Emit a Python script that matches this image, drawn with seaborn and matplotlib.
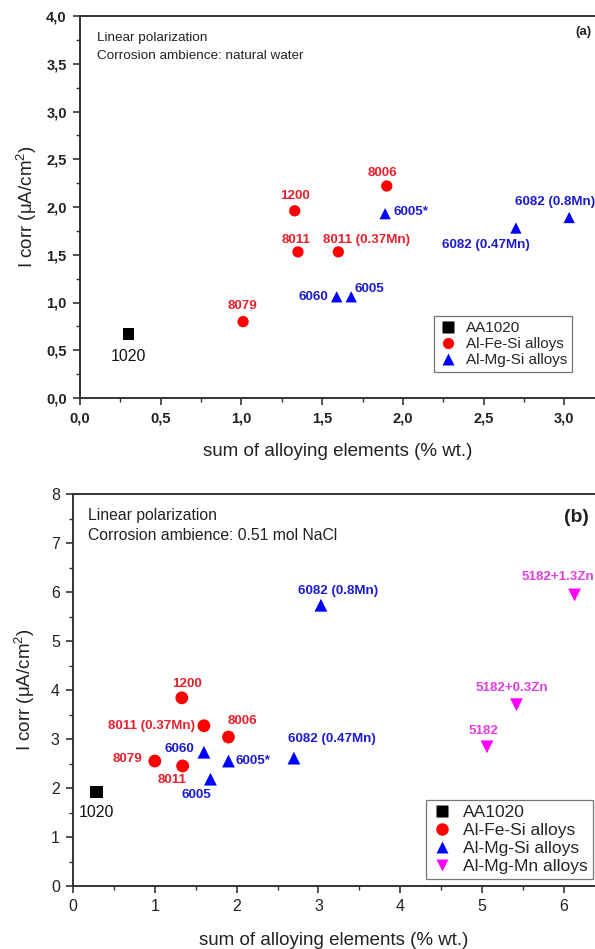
import matplotlib
matplotlib.use("Agg")
import matplotlib.pyplot as plt
from matplotlib.ticker import MultipleLocator, FuncFormatter
from matplotlib.lines import Line2D
import seaborn as sns
import pandas as pd

sns.set_style("ticks")
plt.rcParams["font.family"] = ["Liberation Sans", "DejaVu Sans"]

# ---------------- data: panel (a), natural water ----------------
a_names = ["1020", "8079", "8011", "8011 (0.37Mn)", "1200", "8006",
           "6060", "6005", "6005*", "6082 (0.47Mn)", "6082 (0.8Mn)"]
a_groups = ["AA1020", "Al-Fe-Si alloys", "Al-Fe-Si alloys", "Al-Fe-Si alloys",
            "Al-Fe-Si alloys", "Al-Fe-Si alloys",
            "Al-Mg-Si alloys", "Al-Mg-Si alloys", "Al-Mg-Si alloys",
            "Al-Mg-Si alloys", "Al-Mg-Si alloys"]
a_sum = [0.30, 1.01, 1.35, 1.60, 1.33, 1.90, 1.59, 1.68, 1.89, 2.70, 3.03]
a_icorr = [0.67, 0.80, 1.53, 1.53, 1.96, 2.22, 1.06, 1.06, 1.93, 1.78, 1.89]

# ---------------- data: panel (b), 0.51 mol NaCl ----------------
b_names = ["1020", "8079", "8011", "8011 (0.37Mn)", "8006", "1200",
           "6060", "6005", "6005*", "6082 (0.47Mn)", "6082 (0.8Mn)",
           "5182", "5182+0.3Zn", "5182+1.3Zn"]
b_groups = ["AA1020", "Al-Fe-Si alloys", "Al-Fe-Si alloys", "Al-Fe-Si alloys",
            "Al-Fe-Si alloys", "Al-Fe-Si alloys",
            "Al-Mg-Si alloys", "Al-Mg-Si alloys", "Al-Mg-Si alloys",
            "Al-Mg-Si alloys", "Al-Mg-Si alloys",
            "Al-Mg-Mn alloys", "Al-Mg-Mn alloys", "Al-Mg-Mn alloys"]
b_sum = [0.29, 1.00, 1.34, 1.60, 1.90, 1.33, 1.60, 1.68, 1.90, 2.70, 3.03,
         5.06, 5.42, 6.13]
b_icorr = [1.92, 2.55, 2.45, 3.27, 3.04, 3.84, 2.73, 2.18, 2.55, 2.61, 5.73,
           2.84, 3.70, 5.94]

groups = ["AA1020", "Al-Fe-Si alloys", "Al-Mg-Si alloys", "Al-Mg-Mn alloys"]
palette = {"AA1020": "#000000", "Al-Fe-Si alloys": "#ff0000",
           "Al-Mg-Si alloys": "#0000ff", "Al-Mg-Mn alloys": "#ff00ff"}
markers = {"AA1020": "s", "Al-Fe-Si alloys": "o",
           "Al-Mg-Si alloys": "^", "Al-Mg-Mn alloys": "v"}
text_colors = {"AA1020": "#111111", "Al-Fe-Si alloys": "#e8202c",
               "Al-Mg-Si alloys": "#1a1ad0", "Al-Mg-Mn alloys": "#e040e0"}

# label offsets (pixels) relative to each marker, with alignment
a_offsets = {
    "1020": (0, -22, "center", "regular"),
    "8079": (-1, 16, "center", "bold"),
    "8011": (-2, 12, "center", "bold"),
    "8011 (0.37Mn)": (28, 12, "center", "bold"),
    "1200": (0, 15, "center", "bold"),
    "8006": (-4, 13, "center", "bold"),
    "6060": (-8, 0, "right", "bold"),
    "6005": (3, 8, "left", "bold"),
    "6005*": (8, 2, "left", "bold"),
    "6082 (0.47Mn)": (-30, -17, "center", "bold"),
    "6082 (0.8Mn)": (-14, 16, "center", "bold"),
}
b_offsets = {
    "1020": (0, -21, "center", "regular"),
    "8079": (-12, 2, "right", "bold"),
    "8011": (-11, -14, "center", "bold"),
    "8011 (0.37Mn)": (-9, 0, "right", "bold"),
    "8006": (14, 16, "center", "bold"),
    "1200": (5, 14, "center", "bold"),
    "6060": (-10, 3, "right", "bold"),
    "6005": (-14, -16, "center", "bold"),
    "6005*": (7, 0, "left", "bold"),
    "6082 (0.47Mn)": (38, 19, "center", "bold"),
    "6082 (0.8Mn)": (17, 14, "center", "bold"),
    "5182": (-4, 16, "center", "bold"),
    "5182+0.3Zn": (-5, 17, "center", "bold"),
    "5182+1.3Zn": (-17, 18, "center", "bold"),
}

fig = plt.figure(figsize=(5.95, 9.49), dpi=100)
ax_a = fig.add_axes([80 / 595, 1 - 398 / 949, 1 - 80 / 595, (398 - 16) / 949])
ax_b = fig.add_axes([73 / 595, 1 - 886 / 949, 1 - 73 / 595, (886 - 494) / 949])


def draw_panel(ax, names, grp, xs, ys, offsets, present, msize, lab_fs):
    df = pd.DataFrame({"alloy": names, "group": grp, "sum": xs, "icorr": ys})
    sns.scatterplot(data=df, x="sum", y="icorr", hue="group", style="group",
                    palette={g: palette[g] for g in present},
                    markers={g: markers[g] for g in present},
                    hue_order=present, style_order=present,
                    s=msize, edgecolor="none", linewidth=0, legend=False,
                    ax=ax, zorder=3)
    for _, r in df.iterrows():
        dx, dy, ha, wt = offsets[r["alloy"]]
        fs = 11.5 if wt == "regular" else lab_fs
        ax.annotate(r["alloy"], (r["sum"], r["icorr"]),
                    xytext=(dx, dy), textcoords="offset pixels",
                    ha=ha, va="center", fontsize=fs, fontweight=wt,
                    color=text_colors[r["group"]], zorder=4)


def style_axes(ax):
    for side in ("left", "bottom", "top"):
        ax.spines[side].set_linewidth(1.4)
        ax.spines[side].set_color("#333333")
    ax.spines["right"].set_visible(False)
    ax.tick_params(which="major", direction="out", length=5, width=1.2,
                   colors="#333333", top=False, right=False, pad=4.5)
    ax.tick_params(which="minor", direction="out", length=3, width=1.0,
                   colors="#333333", top=False, right=False)
    ax.tick_params(axis="both", labelcolor="#222222")


def legend(ax, present, anchor, fs, ms):
    handles = [Line2D([], [], linestyle="none", marker=markers[g],
                      markerfacecolor=palette[g], markeredgecolor="none",
                      markersize=ms, label=g) for g in present]
    leg = ax.legend(handles=handles, loc="lower right", bbox_to_anchor=anchor,
                    borderaxespad=0, frameon=True, fancybox=False,
                    fontsize=fs, handletextpad=0.6, borderpad=0.3,
                    labelspacing=0.15, handlelength=1.2)
    leg.get_frame().set_edgecolor("#555555")
    leg.get_frame().set_linewidth(0.9)


# ---------------- panel (a) ----------------
present_a = groups[:3]
draw_panel(ax_a, a_names, a_groups, a_sum, a_icorr, a_offsets, present_a, 66, 9.6)
ax_a.set_xlim(0, 3.19)
ax_a.set_ylim(0, 4.0)
ax_a.xaxis.set_major_locator(MultipleLocator(0.5))
ax_a.xaxis.set_minor_locator(MultipleLocator(0.25))
ax_a.yaxis.set_major_locator(MultipleLocator(0.5))
ax_a.yaxis.set_minor_locator(MultipleLocator(0.25))
comma = FuncFormatter(lambda v, p: f"{v:.1f}".replace(".", ","))
ax_a.xaxis.set_major_formatter(comma)
ax_a.yaxis.set_major_formatter(comma)
style_axes(ax_a)
for lab in ax_a.get_xticklabels() + ax_a.get_yticklabels():
    lab.set_fontweight("bold")
    lab.set_fontsize(10.5)
ax_a.set_xlabel("sum of alloying elements (% wt.)", fontsize=13.5,
                color="#222222", labelpad=13)
ax_a.set_ylabel(r"I corr ($\mathregular{\mu}$A/cm$^\mathregular{2}$)",
                fontsize=13.5, color="#222222", labelpad=5)
ax_a.text(0.033, 0.942, "Linear polarization", transform=ax_a.transAxes,
          fontsize=9.7, va="center", ha="left", color="#222222")
ax_a.text(0.033, 0.895, "Corrosion ambience: natural water",
          transform=ax_a.transAxes, fontsize=9.7, va="center", ha="left",
          color="#222222")
ax_a.text(0.977, 0.958, "(a)", transform=ax_a.transAxes, fontsize=9.5,
          fontweight="bold", va="center", ha="center", color="#222222")
legend(ax_a, present_a, (0.955, 0.068), 11, 8)

# ---------------- panel (b) ----------------
present_b = groups
draw_panel(ax_b, b_names, b_groups, b_sum, b_icorr, b_offsets, present_b, 85, 9.6)
ax_b.set_xlim(0, 6.38)
ax_b.set_ylim(0, 8)
ax_b.xaxis.set_major_locator(MultipleLocator(1))
ax_b.xaxis.set_minor_locator(MultipleLocator(0.5))
ax_b.yaxis.set_major_locator(MultipleLocator(1))
ax_b.yaxis.set_minor_locator(MultipleLocator(0.5))
style_axes(ax_b)
for lab in ax_b.get_xticklabels() + ax_b.get_yticklabels():
    lab.set_fontsize(11.5)
ax_b.set_xlabel("sum of alloying elements (% wt.)", fontsize=13.5,
                color="#222222", labelpad=13)
ax_b.set_ylabel(r"I corr ($\mathregular{\mu}$A/cm$^\mathregular{2}$)",
                fontsize=13.5, color="#222222", labelpad=10)
ax_b.text(0.029, 0.946, "Linear polarization", transform=ax_b.transAxes,
          fontsize=11.3, va="center", ha="left", color="#222222")
ax_b.text(0.029, 0.895, "Corrosion ambience: 0.51 mol NaCl",
          transform=ax_b.transAxes, fontsize=11.3, va="center", ha="left",
          color="#222222")
ax_b.text(0.964, 0.939, "(b)", transform=ax_b.transAxes, fontsize=14,
          fontweight="bold", va="center", ha="center", color="#222222")
legend(ax_b, present_b, (0.996, 0.018), 12.5, 9)

fig.savefig("out.png", dpi=100)
